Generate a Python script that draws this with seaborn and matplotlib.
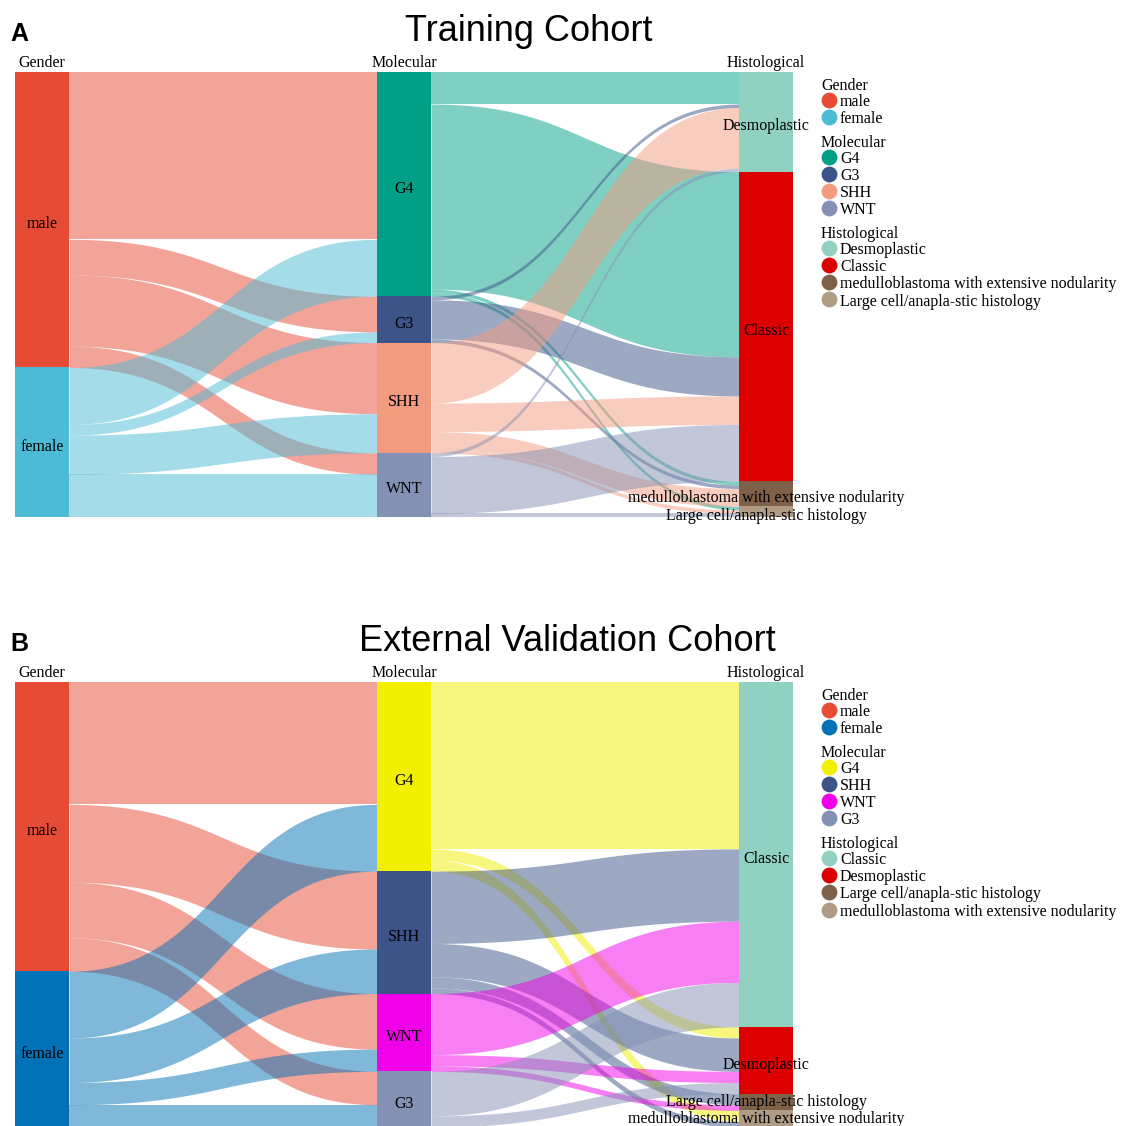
import numpy as np
import matplotlib
matplotlib.use("Agg")
import matplotlib.pyplot as plt
import seaborn as sns

sns.set_theme(style="white")
plt.rcParams["font.family"] = ["Liberation Serif", "DejaVu Serif"]
plt.rcParams["text.color"] = "black"

# ---------------- Training cohort ----------------
train_gender = ["male", "female"]
train_molecular = ["G4", "G3", "SHH", "WNT"]
train_histological = ["Desmoplastic", "Classic",
                      "medulloblastoma with extensive nodularity",
                      "Large cell/anapla-stic histology"]
train_gender_colors = ["#E64B35", "#4DBBD5"]
train_molecular_colors = ["#00A087", "#3C5488", "#F39B7F", "#8491B4"]
train_histological_colors = ["#91D1C2", "#DC0000", "#7E6148", "#B09C85"]
# patients: rows = gender, columns = molecular subgroup
train_gender_to_molecular = [[47, 10, 20, 6],
                             [16, 3, 11, 12]]
# patients: rows = molecular subgroup, columns = histology
train_molecular_to_histological = [[9, 52, 1, 1],
                                   [1, 11, 1, 0],
                                   [17, 8, 5, 1],
                                   [1, 16, 0, 1]]

# ---------------- External validation cohort ----------------
valid_gender = ["male", "female"]
valid_molecular = ["G4", "SHH", "WNT", "G3"]
valid_histological = ["Classic", "Desmoplastic",
                      "Large cell/anapla-stic histology",
                      "medulloblastoma with extensive nodularity"]
valid_gender_colors = ["#E64B35", "#0072B5"]
valid_molecular_colors = ["#F0F000", "#3C5488", "#F000E8", "#8491B4"]
valid_histological_colors = ["#91D1C2", "#DC0000", "#7E6148", "#B09C85"]
valid_gender_to_molecular = [[22, 14, 10, 6],
                             [12, 8, 4, 4]]
valid_molecular_to_histological = [[30, 2, 0, 2],
                                   [13, 6, 2, 1],
                                   [11, 2, 1, 0],
                                   [8, 2, 0, 0]]

axis_titles = ["Gender", "Molecular", "Histological"]

W, H = 1121, 1126
PLOT_LEFT, PLOT_RIGHT = 15, 793
PLOT_H = 445
NODE_W = 54 / (PLOT_RIGHT - PLOT_LEFT)
FS = 11.5

fig = plt.figure(figsize=(W / 100, H / 100), dpi=100)
ov = fig.add_axes([0, 0, 1, 1], zorder=5)
ov.set_xlim(0, W)
ov.set_ylim(H, 0)
ov.axis("off")
ov.patch.set_alpha(0)


def draw_alluvial(top_px, names, colors, flows):
    ax = fig.add_axes([PLOT_LEFT / W, 1 - (top_px + PLOT_H) / H,
                       (PLOT_RIGHT - PLOT_LEFT) / W, PLOT_H / H])
    n_col = len(names)
    xs = [i * (1 - NODE_W) / (n_col - 1) for i in range(n_col)]
    flows = [np.array(f, float) for f in flows]
    sizes = [flows[0].sum(axis=1)] + [f.sum(axis=0) for f in flows]
    tops = [np.concatenate([[0], np.cumsum(s)[:-1]]) for s in sizes]
    total = sizes[0].sum()
    ppu = PLOT_H / total  # pixels per patient

    t = np.linspace(0, 1, 200)
    for c, f in enumerate(flows):
        x0, x1 = xs[c] + NODE_W, xs[c + 1]
        bx = x0 + (x1 - x0) * (1.5 * t - 1.5 * t ** 2 + t ** 3)
        by = 3 * t ** 2 - 2 * t ** 3
        src = tops[c][:, None] + np.hstack([np.zeros((f.shape[0], 1)),
                                            np.cumsum(f, axis=1)[:, :-1]])
        tgt = tops[c + 1][None, :] + np.vstack([np.zeros((1, f.shape[1])),
                                                np.cumsum(f, axis=0)[:-1, :]])
        for i in range(f.shape[0]):
            for j in range(f.shape[1]):
                v = f[i, j]
                if v <= 0:
                    continue
                y0, y1 = src[i, j], tgt[i, j]
                upper = y0 + (y1 - y0) * by
                ax.fill_between(bx, upper, upper + v, color=colors[c][i],
                                alpha=0.5, linewidth=0)

    for c in range(n_col):
        ax.bar([xs[c]] * len(sizes[c]), sizes[c], bottom=tops[c],
               width=NODE_W, align="edge", color=colors[c], linewidth=0)
        # label centres in pixels, kept inside the figure and apart
        ypx = top_px + (tops[c] + sizes[c] / 2) * ppu + 2.5
        ypx[-1] = min(ypx[-1], H - 9)
        for k in range(len(ypx) - 2, -1, -1):
            ypx[k] = min(ypx[k], ypx[k + 1] - 16.5)
        for k, lab in enumerate(names[c]):
            ax.text(xs[c] + NODE_W / 2, (ypx[k] - top_px) / ppu, lab,
                    ha="center", va="center_baseline", fontsize=FS,
                    color="black", zorder=4)
        cx = PLOT_LEFT + (xs[c] + NODE_W / 2) * (PLOT_RIGHT - PLOT_LEFT)
        ov.text(cx, top_px - 5, axis_titles[c], ha="center", va="baseline",
                fontsize=FS)

    ax.set_xlim(0, 1)
    ax.set_ylim(total, 0)
    ax.axis("off")
    return ax


def draw_legend(y, groups):
    for title, labels, cols in groups:
        ov.text(821, y, title, ha="left", va="center_baseline", fontsize=FS)
        y += 15.7
        for lab, col in zip(labels, cols):
            ov.scatter([828.5], [y], s=130, color=col, linewidths=0)
            ov.text(840, y, lab, ha="left", va="center_baseline", fontsize=FS)
            y += 17.2
        y += 24 - 17.2


# Panel A
ov.text(10, 41, "A", ha="left", va="baseline", fontsize=18,
        fontweight="bold", family="Liberation Sans")
ov.text(529, 41, "Training Cohort", ha="center", va="baseline", fontsize=26,
        family="Liberation Sans")
draw_alluvial(72,
              [train_gender, train_molecular, train_histological],
              [train_gender_colors, train_molecular_colors,
               train_histological_colors],
              [train_gender_to_molecular, train_molecular_to_histological])
draw_legend(84, [("Gender", train_gender, train_gender_colors),
                 ("Molecular", train_molecular, train_molecular_colors),
                 ("Histological", train_histological,
                  train_histological_colors)])

# Panel B
ov.text(10, 651, "B", ha="left", va="baseline", fontsize=18,
        fontweight="bold", family="Liberation Sans")
ov.text(567, 651, "External Validation Cohort", ha="center", va="baseline",
        fontsize=26, family="Liberation Sans")
draw_alluvial(682,
              [valid_gender, valid_molecular, valid_histological],
              [valid_gender_colors, valid_molecular_colors,
               valid_histological_colors],
              [valid_gender_to_molecular, valid_molecular_to_histological])
draw_legend(694, [("Gender", valid_gender, valid_gender_colors),
                  ("Molecular", valid_molecular, valid_molecular_colors),
                  ("Histological", valid_histological,
                   valid_histological_colors)])

fig.savefig("out.png", dpi=100, facecolor="white")
